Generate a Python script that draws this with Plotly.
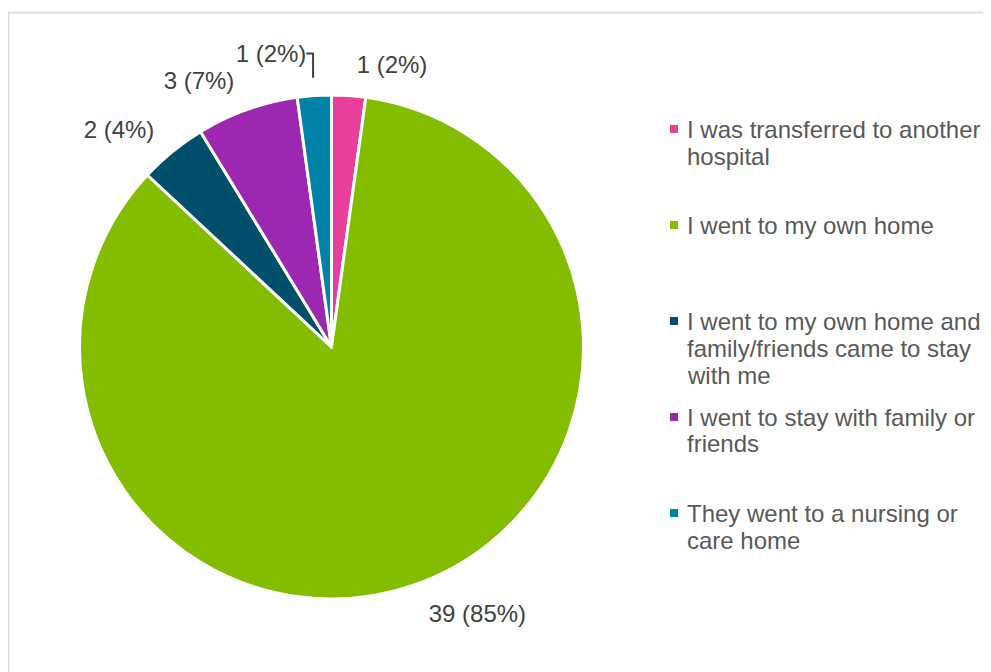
import plotly.graph_objects as go

labels = [
    "I was transferred to another hospital",
    "I went to my own home",
    "I went to my own home and family/friends came to stay with me",
    "I went to stay with family or friends",
    "They went to a nursing or care home",
]
legend_lines = [
    ["I was transferred to another", "hospital"],
    ["I went to my own home"],
    ["I went to my own home and", "family/friends came to stay", "with me"],
    ["I went to stay with family or", "friends"],
    ["They went to a nursing or", "care home"],
]
values = [1, 39, 2, 3, 1]
colors = ["#E8409A", "#84BD00", "#004F6B", "#9C27B0", "#0083A6"]

# page body has an 8px margin; work in reference-page pixels and shift
OFF = 8
W, H = 991 - OFF, 672 - OFF
FONT = "Liberation Sans, Arial"


def px(x):
    return (x - OFF) / W


def py(y):
    return 1 - (y - OFF) / H


cx, cy, r = 331.5, 347, 252
label_r = r + 18

common = dict(labels=labels, values=values, sort=False, direction="clockwise",
              rotation=0, showlegend=False)

# visible pie
fig = go.Figure(go.Pie(
    **common,
    marker=dict(colors=colors, line=dict(color="white", width=3)),
    textinfo="none",
    hoverinfo="label+value+percent",
    domain=dict(x=[px(cx - r), px(cx + r)], y=[py(cy + r), py(cy - r)]),
))
# transparent companion pie that only carries the outside data labels
fig.add_trace(go.Pie(
    **common,
    marker=dict(colors=["rgba(0,0,0,0)"] * len(values), line=dict(width=0)),
    texttemplate="%{value} (%{percent:.0%})",
    textposition="outside",
    outsidetextfont=dict(family=FONT, size=24, color="#404040"),
    hoverinfo="skip",
    domain=dict(x=[px(cx - label_r), px(cx + label_r)], y=[py(cy + label_r), py(cy - label_r)]),
))

shapes = [dict(type="rect", xref="paper", yref="paper",
               x0=0.5 / W, x1=1.2, y0=-0.2, y1=py(12.5),
               line=dict(color="#D9D9D9", width=1.5), fillcolor="rgba(0,0,0,0)", layer="below")]
annotations = []
start_y, step, line_h = 129, 96, 27
for i, (lines, col) in enumerate(zip(legend_lines, colors)):
    y0 = start_y + i * step
    shapes.append(dict(type="rect", xref="paper", yref="paper",
                       x0=px(670), x1=px(678), y0=py(y0 + 4), y1=py(y0 - 4),
                       line=dict(width=0), fillcolor=col))
    for j, t in enumerate(lines):
        annotations.append(dict(text=t, xref="paper", yref="paper", x=px(685),
                                y=py(y0 + j * line_h), xanchor="left", yanchor="middle",
                                showarrow=False,
                                font=dict(family=FONT, size=24, color="#595959")))

fig.update_layout(
    width=W, height=H,
    margin=dict(l=0, r=0, t=0, b=0),
    paper_bgcolor="white", plot_bgcolor="white",
    shapes=shapes, annotations=annotations,
)
fig.write_html("out.html")
